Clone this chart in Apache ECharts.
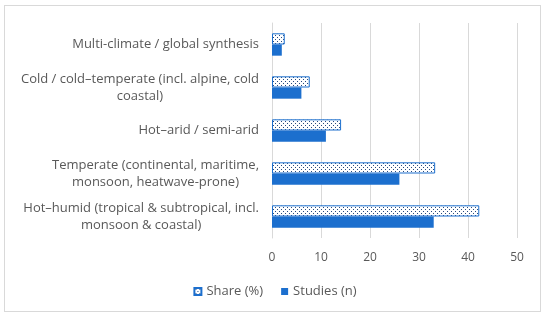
<!DOCTYPE html>
<html>
<head>
<meta charset="utf-8">
<script src="https://cdn.jsdelivr.net/npm/echarts@6/dist/echarts.min.js"></script>
<style>
html,body{margin:0;padding:0;background:#fff;}
#frame{position:absolute;left:4px;top:5px;width:537px;height:307px;border:1px solid #d9d9d9;box-sizing:border-box;}
#chart{position:absolute;left:0;top:0;width:550px;height:323px;}
</style>
</head>
<body>
<div id="frame"></div>
<div id="chart"></div>
<script>
const categories = [
  "Hot\u2013humid (tropical & subtropical, incl.\nmonsoon & coastal)",
  "Temperate (continental, maritime,\nmonsoon, heatwave-prone)",
  "Hot\u2013arid / semi-arid",
  "Cold / cold\u2013temperate (incl. alpine, cold\ncoastal)",
  "Multi-climate / global synthesis"
];
const shareValues = [42.3, 33.3, 14.1, 7.7, 2.6];
const studiesValues = [33, 26, 11, 6, 2];
const xTicks = [0, 10, 20, 30, 40, 50];

const BLUE = '#1c6fce';
const FONT = 'Open Sans';

function makePattern() {
  const c = document.createElement('canvas');
  c.width = 4; c.height = 4;
  const ctx = c.getContext('2d');
  ctx.fillStyle = '#ffffff';
  ctx.fillRect(0, 0, 4, 4);
  ctx.fillStyle = '#27497d';
  ctx.fillRect(1, 1, 1, 1);
  ctx.fillRect(3, 3, 1, 1);
  return c;
}
const pattern = { image: makePattern(), repeat: 'repeat' };

const chart = echarts.init(document.getElementById('chart'), null, { renderer: 'canvas' });
chart.setOption({
  animation: false,
  textStyle: { fontFamily: FONT },
  grid: { left: 272, right: 33, top: 23, bottom: 85, containLabel: false },
  xAxis: {
    type: 'value',
    min: xTicks[0],
    max: xTicks[xTicks.length - 1],
    interval: 10,
    axisLine: { show: false },
    axisTick: { show: false },
    splitLine: { lineStyle: { color: '#d9d9d9', width: 1 } },
    axisLabel: { color: '#595959', fontSize: 12, margin: 14, fontFamily: FONT }
  },
  yAxis: {
    type: 'category',
    data: categories,
    axisLine: { show: true, lineStyle: { color: '#d9d9d9' } },
    axisTick: { show: false },
    axisLabel: {
      color: '#595959',
      fontSize: 13,
      margin: 13,
      fontFamily: FONT,
      lineHeight: 17,
      formatter: function (v) {
        return v.split('\n').map(function (s) { return '{c|' + s + '}'; }).join('\n');
      },
      rich: {
        c: { align: 'center', color: '#595959', fontSize: 13, lineHeight: 17, fontFamily: FONT }
      }
    }
  },
  legend: {
    bottom: 20,
    left: 'center',
    itemWidth: 7,
    itemHeight: 7,
    itemGap: 18,
    icon: 'rect',
    textStyle: { color: '#595959', fontSize: 13, fontFamily: FONT },
    data: ['Share (%)', 'Studies (n)']
  },
  series: [
    {
      name: 'Share (%)',
      type: 'bar',
      data: shareValues,
      barCategoryGap: '48%',
      barGap: '0%',
      itemStyle: { color: pattern, borderColor: BLUE, borderWidth: 1 }
    },
    {
      name: 'Studies (n)',
      type: 'bar',
      data: studiesValues,
      barCategoryGap: '48%',
      barGap: '0%',
      itemStyle: { color: BLUE }
    }
  ]
});
</script>
</body>
</html>
